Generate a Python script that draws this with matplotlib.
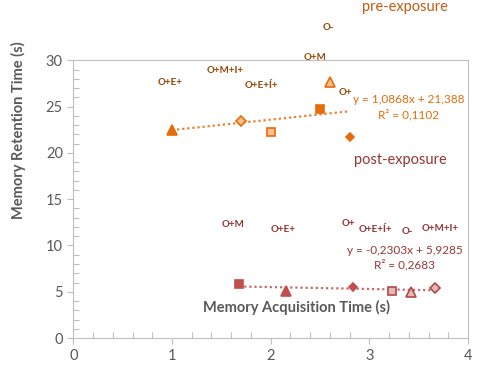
import numpy as np
import matplotlib
matplotlib.use("Agg")
import matplotlib.pyplot as plt
from matplotlib.ticker import MultipleLocator

plt.rcParams['font.family'] = ['Lato', 'DejaVu Sans']

# groups in the same order for both series
grupos = ['O+E+', 'O+M+I+', 'O+E+Í+', 'O+M', 'O-', 'O+']

# pre-exposure
pre_x = [1.0, 1.70, 2.0, 2.50, 2.60, 2.80]
pre_y = [22.47, 23.41, 22.29, 24.74, 27.62, 21.68]

# post-exposure
post_x = [2.16, 3.67, 3.23, 1.68, 3.42, 2.83]
post_y = [5.10, 5.39, 5.14, 5.83, 5.03, 5.53]

eq_pre = ["y = 1,0868x + 21,388", "R² = 0,1102"]
eq_post = ["y = -0,2303x + 5,9285", "R² = 0,2683"]

# marker style per group: (marker, size, light?)
gaya = {
    'O+E+': ('^', 6.5, False),
    'O+M+I+': ('D', 5.5, True),
    'O+E+Í+': ('s', 6, True),
    'O+M': ('s', 6, False),
    'O-': ('^', 7, True),
    'O+': ('D', 4.5, False),
}

# label offsets in pixels (dx, dy up)
off_pre = [(-2, 47), (-16, 51), (-9, 46), (-5, 51), (-2, 55), (-4, 45)]
off_post = [(-3, 61), (5, 60), (-17, 61), (-6, 60), (-3, 60), (-4, 63)]

warna = {
    'pre': dict(dark='#E46C0A', light='#FAC090', edge='#E46C0A', label='#984807', eq='#E46C0A'),
    'post': dict(dark='#C0504D', light='#E6B9B8', edge='#B04A47', label='#953735', eq='#953735'),
}

fig = plt.figure(figsize=(4.84, 3.73), dpi=100)
ax = fig.add_axes([0.1515, 0.0935, 0.8155, 0.745])


def gambar(xs, ys, offs, c, eq, eq_xy):
    for g, x, y, (dx, dy) in zip(grupos, xs, ys, offs):
        m, ms, light = gaya[g]
        ax.plot(x, y, marker=m, markersize=ms, color=c['light'] if light else c['dark'],
                markeredgecolor=c['edge'] if light else c['dark'], markeredgewidth=1.2,
                linestyle='none', zorder=3, clip_on=False)
        ax.annotate(g, (x, y), xytext=(dx, dy), textcoords='offset pixels',
                    ha='center', va='center', fontsize=7, fontweight='bold',
                    color=c['label'], annotation_clip=False)
    k, b = np.polyfit(xs, ys, 1)
    tx = np.array([min(xs), max(xs)])
    ax.plot(tx, k * tx + b, linestyle=(0, (1, 1.3)), linewidth=1.6, color=c['dark'],
            alpha=0.85, zorder=2)
    ax.text(eq_xy[0], eq_xy[1], eq[0] + "\n" + eq[1], ha='center', va='center',
            fontsize=8.5, color=c['eq'], linespacing=1.3)


gambar(pre_x, pre_y, off_pre, warna['pre'], eq_pre, (3.40, 24.93))
gambar(post_x, post_y, off_post, warna['post'], eq_post, (3.36, 8.7))

ax.text(3.36, 35.7, "pre-exposure", ha='center', va='center', fontsize=10.5,
        color='#C55A11', clip_on=False)
ax.text(3.31, 19.23, "post-exposure", ha='center', va='center', fontsize=10.5,
        color='#943634')

ax.text(2.26, 3.36, "Memory Acquisition Time (s)", ha='center', va='center',
        fontsize=10.5, fontweight='bold', color='#595959')
ax.set_ylabel("Memory Retention Time (s)", fontsize=10.5, fontweight='bold',
              color='#595959')
ax.yaxis.set_label_coords(-0.12, 0.75)

ax.set_xlim(0, 4)
ax.set_ylim(0, 30)
ax.xaxis.set_major_locator(MultipleLocator(1))
ax.xaxis.set_minor_locator(MultipleLocator(0.2))
ax.yaxis.set_major_locator(MultipleLocator(5))
ax.yaxis.set_minor_locator(MultipleLocator(1))
ax.tick_params(which='major', direction='out', length=4, color='#BFBFBF',
               labelsize=10.5, labelcolor='#595959', width=0.8)
ax.tick_params(which='minor', direction='in', length=4, color='#BFBFBF', width=0.8)
for s in ax.spines.values():
    s.set_color('#BFBFBF')
    s.set_linewidth(0.8)

fig.savefig("out.png", dpi=100)
